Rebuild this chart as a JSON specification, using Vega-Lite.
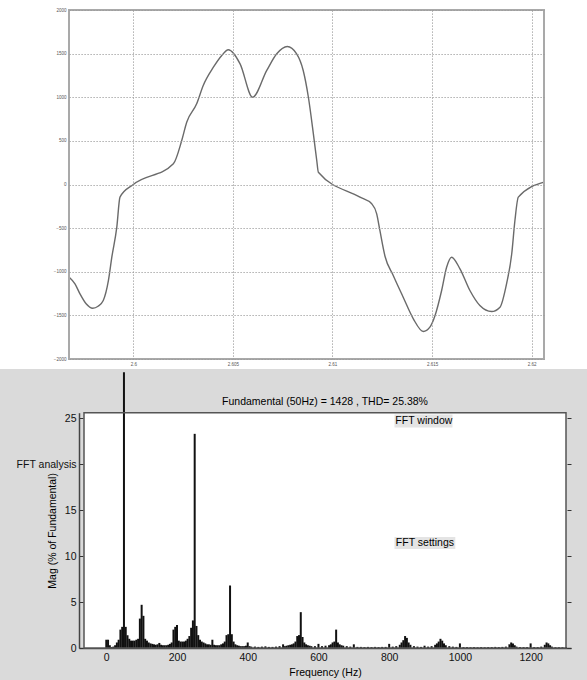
{
  "$schema": "https://vega.github.io/schema/vega-lite/v6.json",
  "background": "white",
  "padding": 0,
  "spacing": 0,
  "config": {
    "view": {"stroke": null},
    "font": "Liberation Sans",
    "axis": {"labelFlush": false, "labelOverlap": false}
  },
  "datasets": {
    "wave": [
      {"t": 2.59678, "value": -1062}, {"t": 2.59707, "value": -1138}, {"t": 2.59732, "value": -1253},
      {"t": 2.59763, "value": -1367}, {"t": 2.59796, "value": -1418}, {"t": 2.59823, "value": -1395},
      {"t": 2.59849, "value": -1330}, {"t": 2.59875, "value": -1100}, {"t": 2.59892, "value": -833},
      {"t": 2.59917, "value": -489}, {"t": 2.59933, "value": -145}, {"t": 2.6, "value": 0},
      {"t": 2.60201, "value": 237}, {"t": 2.60243, "value": 504}, {"t": 2.60268, "value": 714},
      {"t": 2.60318, "value": 925}, {"t": 2.60351, "value": 1135}, {"t": 2.60402, "value": 1344},
      {"t": 2.60444, "value": 1479}, {"t": 2.60477, "value": 1544}, {"t": 2.60536, "value": 1383},
      {"t": 2.60599, "value": 1000}, {"t": 2.6067, "value": 1307}, {"t": 2.6072, "value": 1498},
      {"t": 2.60773, "value": 1582}, {"t": 2.6082, "value": 1498}, {"t": 2.60853, "value": 1307},
      {"t": 2.60879, "value": 1000}, {"t": 2.60904, "value": 581}, {"t": 2.60921, "value": 275},
      {"t": 2.60929, "value": 141}, {"t": 2.61138, "value": -145}, {"t": 2.61197, "value": -221},
      {"t": 2.61222, "value": -336}, {"t": 2.61238, "value": -527}, {"t": 2.61264, "value": -825},
      {"t": 2.61305, "value": -1043}, {"t": 2.61355, "value": -1292}, {"t": 2.61406, "value": -1540},
      {"t": 2.61456, "value": -1685}, {"t": 2.61489, "value": -1635}, {"t": 2.61515, "value": -1501},
      {"t": 2.61548, "value": -1215}, {"t": 2.61573, "value": -948}, {"t": 2.61598, "value": -833},
      {"t": 2.6164, "value": -966}, {"t": 2.6169, "value": -1215}, {"t": 2.6174, "value": -1387},
      {"t": 2.61799, "value": -1456}, {"t": 2.61841, "value": -1406}, {"t": 2.61874, "value": -1138},
      {"t": 2.619, "value": -794}, {"t": 2.61916, "value": -413}, {"t": 2.61933, "value": -145},
      {"t": 2.62062, "value": 27}
    ],
    "spectrum": [
      {"freq": 0, "mag": 0.9}, {"freq": 5, "mag": 0.9}, {"freq": 10, "mag": 0.3}, {"freq": 15, "mag": 0.1},
      {"freq": 20, "mag": 0.15}, {"freq": 25, "mag": 0.3}, {"freq": 30, "mag": 0.6}, {"freq": 35, "mag": 0.9},
      {"freq": 40, "mag": 2.0}, {"freq": 45, "mag": 2.3}, {"freq": 50, "mag": 30}, {"freq": 55, "mag": 2.3},
      {"freq": 60, "mag": 1.4}, {"freq": 65, "mag": 1.0}, {"freq": 70, "mag": 0.8}, {"freq": 75, "mag": 0.8},
      {"freq": 80, "mag": 0.8}, {"freq": 85, "mag": 0.9}, {"freq": 90, "mag": 1.0}, {"freq": 95, "mag": 3.2},
      {"freq": 100, "mag": 4.7}, {"freq": 105, "mag": 3.5}, {"freq": 110, "mag": 1.0}, {"freq": 115, "mag": 0.8},
      {"freq": 120, "mag": 0.6}, {"freq": 125, "mag": 0.5}, {"freq": 130, "mag": 0.45}, {"freq": 135, "mag": 0.4},
      {"freq": 140, "mag": 0.35}, {"freq": 145, "mag": 0.4}, {"freq": 150, "mag": 0.55}, {"freq": 155, "mag": 0.35},
      {"freq": 160, "mag": 0.3}, {"freq": 165, "mag": 0.3}, {"freq": 170, "mag": 0.3}, {"freq": 175, "mag": 0.35},
      {"freq": 180, "mag": 0.45}, {"freq": 185, "mag": 0.6}, {"freq": 190, "mag": 2.0}, {"freq": 195, "mag": 2.3},
      {"freq": 200, "mag": 2.5}, {"freq": 205, "mag": 0.8}, {"freq": 210, "mag": 0.7}, {"freq": 215, "mag": 0.7},
      {"freq": 220, "mag": 0.7}, {"freq": 225, "mag": 0.8}, {"freq": 230, "mag": 1.0}, {"freq": 235, "mag": 1.3},
      {"freq": 240, "mag": 2.2}, {"freq": 245, "mag": 3.0}, {"freq": 250, "mag": 23.3}, {"freq": 255, "mag": 2.4},
      {"freq": 260, "mag": 1.4}, {"freq": 265, "mag": 0.9}, {"freq": 270, "mag": 0.7}, {"freq": 275, "mag": 0.6},
      {"freq": 280, "mag": 0.5}, {"freq": 285, "mag": 0.4}, {"freq": 290, "mag": 0.4}, {"freq": 295, "mag": 0.35},
      {"freq": 300, "mag": 0.9}, {"freq": 305, "mag": 0.35}, {"freq": 310, "mag": 0.3}, {"freq": 315, "mag": 0.3},
      {"freq": 320, "mag": 0.3}, {"freq": 325, "mag": 0.4}, {"freq": 330, "mag": 0.5}, {"freq": 335, "mag": 0.7},
      {"freq": 340, "mag": 1.4}, {"freq": 345, "mag": 1.5}, {"freq": 350, "mag": 6.8}, {"freq": 355, "mag": 1.5},
      {"freq": 360, "mag": 0.7}, {"freq": 365, "mag": 0.4}, {"freq": 370, "mag": 0.3}, {"freq": 375, "mag": 0.25},
      {"freq": 380, "mag": 0.2}, {"freq": 385, "mag": 0.2}, {"freq": 390, "mag": 0.2}, {"freq": 395, "mag": 0.25},
      {"freq": 400, "mag": 0.6}, {"freq": 405, "mag": 0.2}, {"freq": 410, "mag": 0.15}, {"freq": 420, "mag": 0.15},
      {"freq": 430, "mag": 0.12}, {"freq": 440, "mag": 0.15}, {"freq": 450, "mag": 0.18}, {"freq": 460, "mag": 0.12},
      {"freq": 470, "mag": 0.12}, {"freq": 480, "mag": 0.15}, {"freq": 490, "mag": 0.2}, {"freq": 500, "mag": 0.4},
      {"freq": 505, "mag": 0.2}, {"freq": 510, "mag": 0.25}, {"freq": 515, "mag": 0.3}, {"freq": 520, "mag": 0.35},
      {"freq": 525, "mag": 0.4}, {"freq": 530, "mag": 0.5}, {"freq": 535, "mag": 0.7}, {"freq": 540, "mag": 1.3},
      {"freq": 545, "mag": 1.4}, {"freq": 550, "mag": 3.9}, {"freq": 555, "mag": 1.2}, {"freq": 560, "mag": 0.6},
      {"freq": 565, "mag": 0.4}, {"freq": 570, "mag": 0.3}, {"freq": 575, "mag": 0.25}, {"freq": 580, "mag": 0.2},
      {"freq": 590, "mag": 0.2}, {"freq": 600, "mag": 0.45}, {"freq": 610, "mag": 0.2}, {"freq": 620, "mag": 0.25},
      {"freq": 630, "mag": 0.3}, {"freq": 635, "mag": 0.4}, {"freq": 640, "mag": 0.6}, {"freq": 645, "mag": 0.7},
      {"freq": 650, "mag": 2.0}, {"freq": 655, "mag": 0.6}, {"freq": 660, "mag": 0.4}, {"freq": 665, "mag": 0.3},
      {"freq": 670, "mag": 0.25}, {"freq": 680, "mag": 0.2}, {"freq": 690, "mag": 0.15}, {"freq": 700, "mag": 0.4},
      {"freq": 710, "mag": 0.12}, {"freq": 720, "mag": 0.12}, {"freq": 730, "mag": 0.1}, {"freq": 740, "mag": 0.12},
      {"freq": 750, "mag": 0.1}, {"freq": 760, "mag": 0.12}, {"freq": 770, "mag": 0.1}, {"freq": 780, "mag": 0.12},
      {"freq": 790, "mag": 0.12}, {"freq": 800, "mag": 0.45}, {"freq": 810, "mag": 0.15}, {"freq": 820, "mag": 0.2},
      {"freq": 830, "mag": 0.35}, {"freq": 835, "mag": 0.6}, {"freq": 840, "mag": 0.85}, {"freq": 845, "mag": 1.3},
      {"freq": 850, "mag": 1.1}, {"freq": 855, "mag": 0.6}, {"freq": 860, "mag": 0.35}, {"freq": 870, "mag": 0.2},
      {"freq": 880, "mag": 0.15}, {"freq": 890, "mag": 0.12}, {"freq": 900, "mag": 0.25}, {"freq": 910, "mag": 0.15},
      {"freq": 920, "mag": 0.2}, {"freq": 930, "mag": 0.35}, {"freq": 935, "mag": 0.5}, {"freq": 940, "mag": 0.7},
      {"freq": 945, "mag": 1.0}, {"freq": 950, "mag": 0.8}, {"freq": 955, "mag": 0.5}, {"freq": 960, "mag": 0.3},
      {"freq": 970, "mag": 0.2}, {"freq": 980, "mag": 0.15}, {"freq": 990, "mag": 0.12}, {"freq": 1000, "mag": 0.5},
      {"freq": 1010, "mag": 0.1}, {"freq": 1020, "mag": 0.1}, {"freq": 1030, "mag": 0.08}, {"freq": 1040, "mag": 0.1},
      {"freq": 1050, "mag": 0.08}, {"freq": 1060, "mag": 0.1}, {"freq": 1070, "mag": 0.08}, {"freq": 1080, "mag": 0.1},
      {"freq": 1090, "mag": 0.1}, {"freq": 1100, "mag": 0.12}, {"freq": 1110, "mag": 0.1}, {"freq": 1120, "mag": 0.12},
      {"freq": 1130, "mag": 0.15}, {"freq": 1140, "mag": 0.4}, {"freq": 1145, "mag": 0.6}, {"freq": 1150, "mag": 0.5},
      {"freq": 1155, "mag": 0.3}, {"freq": 1160, "mag": 0.15}, {"freq": 1170, "mag": 0.1}, {"freq": 1180, "mag": 0.1},
      {"freq": 1190, "mag": 0.1}, {"freq": 1200, "mag": 0.5}, {"freq": 1210, "mag": 0.1}, {"freq": 1220, "mag": 0.1},
      {"freq": 1230, "mag": 0.15}, {"freq": 1240, "mag": 0.35}, {"freq": 1245, "mag": 0.6}, {"freq": 1250, "mag": 0.5},
      {"freq": 1255, "mag": 0.3}, {"freq": 1260, "mag": 0.15}, {"freq": 1270, "mag": 0.08}, {"freq": 1280, "mag": 0.08},
      {"freq": 1290, "mag": 0.08}, {"freq": 1300, "mag": 0.08}
    ]
  },
  "vconcat": [
    {
      "width": 587,
      "height": 369,
      "view": {"fill": "white", "stroke": null},
      "layer": [
        {
          "data": {"values": [{}]},
          "mark": {"type": "rect", "fill": "white"},
          "encoding": {
            "x": {
              "datum": 2.59677, "type": "quantitative",
              "scale": {"domain": [2.59677, 2.62062], "range": [69, 544], "nice": false, "zero": false},
              "axis": {
                "orient": "bottom", "offset": -10, "values": [2.6, 2.605, 2.61, 2.615, 2.62],
                "format": "~g", "zindex": 1,
                "title": null, "domain": false, "ticks": false, "labelFontSize": 4.5, "labelColor": "#555",
                "labelPadding": 2, "grid": true, "gridColor": "#9a9a9a", "gridDash": [1.2, 1.8], "gridWidth": 1
              }
            },
            "x2": {"datum": 2.62062},
            "y": {
              "datum": -2000, "type": "quantitative",
              "scale": {"domain": [-2000, 2000], "range": [359, 10], "nice": false, "zero": false},
              "axis": {
                "orient": "left", "offset": -69, "values": [-2000, -1500, -1000, -500, 0, 500, 1000, 1500, 2000],
                "format": "d", "zindex": 1,
                "title": null, "domain": false, "ticks": false, "labelFontSize": 4.5,
                "labelColor": "#555", "labelPadding": 3, "grid": true, "gridColor": "#9a9a9a",
                "gridDash": [1.2, 1.8], "gridWidth": 1
              }
            },
            "y2": {"datum": 2000}
          }
        },
        {
          "data": {"name": "wave"},
          "mark": {"type": "line", "color": "#6a6a6a", "strokeWidth": 1.4, "interpolate": "monotone"},
          "encoding": {
            "x": {"field": "t", "type": "quantitative", "axis": null},
            "y": {"field": "value", "type": "quantitative", "axis": null}
          }
        },
        {
          "data": {"values": [{}]},
          "mark": {"type": "rect", "filled": false, "color": "#a9a9a9", "strokeWidth": 2},
          "encoding": {
            "x": {
              "datum": 2.59677, "type": "quantitative",
              "axis": {"orient": "top", "offset": -10, "labels": false, "ticks": false, "domain": false, "grid": false, "title": null}
            },
            "x2": {"datum": 2.62062},
            "y": {
              "datum": -2000, "type": "quantitative",
              "axis": {"orient": "right", "offset": -43, "labels": false, "ticks": false, "domain": false, "grid": false, "title": null}
            },
            "y2": {"datum": 2000}
          }
        }
      ]
    },
    {
      "width": 587,
      "height": 311,
      "view": {"fill": "#dadada", "stroke": null},
      "title": {
        "text": "Fundamental (50Hz) = 1428 , THD= 25.38%",
        "frame": "group", "anchor": "middle", "offset": -38, "dx": 31.5,
        "fontSize": 10.5, "fontWeight": "normal", "color": "#000"
      },
      "layer": [
        {
          "data": {"values": [{}]},
          "mark": {"type": "rect", "fill": "white"},
          "encoding": {
            "x": {
              "datum": -63, "type": "quantitative",
              "scale": {"domain": [-63, 1300], "range": [79, 571], "nice": false, "zero": false},
              "axis": {
                "orient": "bottom", "offset": -32, "values": [0, 200, 400, 600, 800, 1000, 1200], "format": "d",
                "title": "Frequency (Hz)", "titleFontSize": 10.5, "titleFontWeight": "normal", "titleColor": "#000",
                "titlePadding": 5, "labelFontSize": 10.5, "labelColor": "#111", "labelPadding": 8,
                "tickSize": -4, "tickColor": "#333", "domainColor": "#444", "domainWidth": 1.5, "grid": false
              }
            },
            "x2": {"datum": 1300},
            "y": {
              "datum": 0, "type": "quantitative",
              "scale": {"domain": [0, 25.6], "range": [279, 43.7], "nice": false, "zero": false},
              "axis": {
                "orient": "left", "offset": -79, "values": [0, 5, 10, 15, 20, 25],
                "labelExpr": "datum.value == 20 ? 'FFT analysis' : datum.label",
                "title": "Mag (% of Fundamental)", "titleFontSize": 10.5, "titleFontWeight": "normal",
                "titleColor": "#000", "titleX": -22, "titleAngle": 270, "titleBaseline": "bottom",
                "labelFontSize": 10.5, "labelColor": "#111", "labelPadding": 7,
                "tickSize": -4, "tickColor": "#333", "domainColor": "#444", "domainWidth": 1.5, "grid": false
              }
            },
            "y2": {"datum": 25.6}
          }
        },
        {
          "data": {"name": "spectrum"},
          "mark": {"type": "bar", "color": "#111", "width": 2},
          "encoding": {
            "x": {"field": "freq", "type": "quantitative", "axis": null},
            "y": {"field": "mag", "type": "quantitative", "axis": null}
          }
        },
        {
          "data": {"values": [{}]},
          "mark": {"type": "rect", "fill": "#e4e4e4"},
          "encoding": {
            "x": {"datum": 815, "type": "quantitative", "axis": null},
            "x2": {"datum": 979},
            "y": {"datum": 24.0, "type": "quantitative", "axis": null},
            "y2": {"datum": 25.4}
          }
        },
        {
          "data": {"values": [{}]},
          "mark": {"type": "rect", "fill": "#e4e4e4"},
          "encoding": {
            "x": {"datum": 815, "type": "quantitative", "axis": null},
            "x2": {"datum": 987},
            "y": {"datum": 10.76, "type": "quantitative", "axis": null},
            "y2": {"datum": 12.07}
          }
        },
        {
          "data": {"values": [{"label": "FFT window", "fx": 898, "fy": 24.75}, {"label": "FFT settings", "fx": 901, "fy": 11.42}]},
          "mark": {"type": "text", "fontSize": 10.5, "color": "#000", "align": "center", "baseline": "middle"},
          "encoding": {
            "x": {"field": "fx", "type": "quantitative", "axis": null},
            "y": {"field": "fy", "type": "quantitative", "axis": null},
            "text": {"field": "label"}
          }
        },
        {
          "data": {"values": [{}]},
          "mark": {"type": "rect", "filled": false, "color": "#555", "strokeWidth": 1.5},
          "encoding": {
            "x": {
              "datum": -63, "type": "quantitative",
              "axis": {
                "orient": "top", "offset": -43.7, "values": [0, 200, 400, 600, 800, 1000, 1200],
                "labels": false, "title": null, "tickSize": -4, "tickColor": "#333", "domain": false, "grid": false
              }
            },
            "x2": {"datum": 1300},
            "y": {
              "datum": 0, "type": "quantitative",
              "axis": {
                "orient": "right", "offset": -16, "values": [0, 5, 10, 15, 20, 25],
                "labels": false, "title": null, "tickSize": -4, "tickColor": "#333", "domain": false, "grid": false
              }
            },
            "y2": {"datum": 25.6}
          }
        }
      ]
    }
  ]
}
